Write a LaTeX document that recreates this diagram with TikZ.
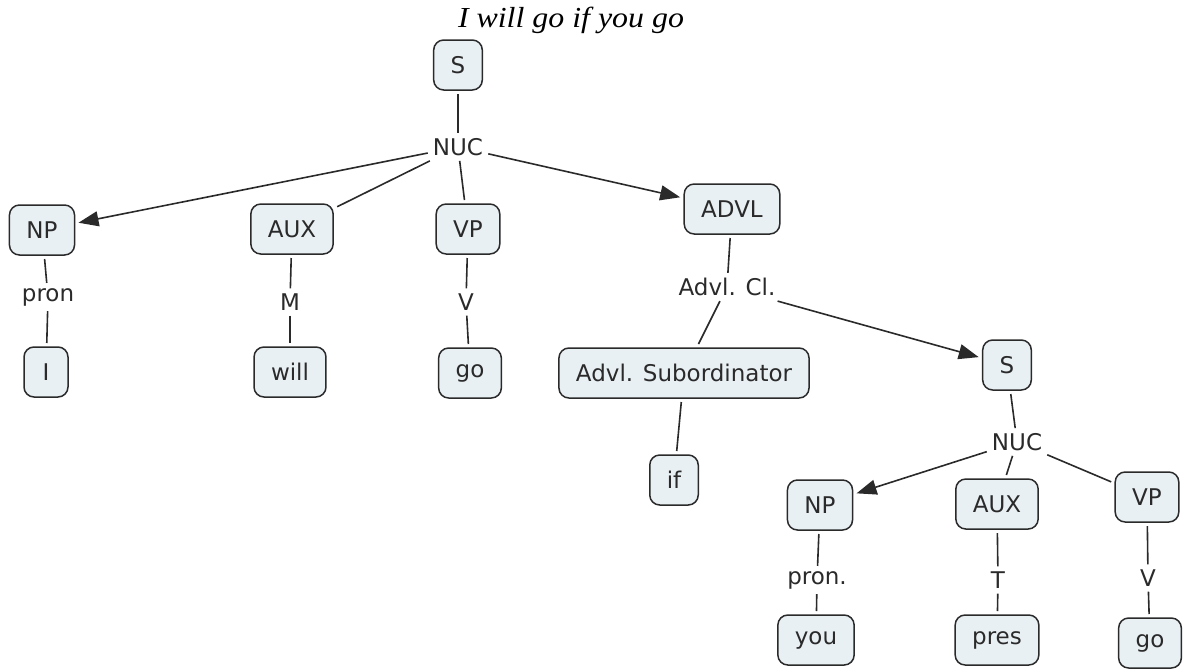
\documentclass[tikz,border=0pt]{standalone}
\usepackage{fontspec}
\setmainfont{DejaVu Sans}
\newfontfamily\titlefont{Liberation Serif}[FakeStretch=1.1]
\usepackage{tikz}
\usetikzlibrary{arrows.meta}
\definecolor{cmapfill}{HTML}{E9F0F4}
\definecolor{cmapink}{HTML}{2A2A2A}
\tikzset{
  conceptbox/.style={draw=cmapink,fill=cmapfill,rounded corners=10pt,line width=1.5pt,
    minimum height=50pt,minimum width=44pt,inner xsep=17pt,outer sep=4pt,
    text=cmapink,font=\fontsize{23}{27}\selectfont},
  linklabel/.style={inner sep=5pt,text=cmapink,font=\fontsize{23}{27}\selectfont},
  linkline/.style={draw=cmapink,line width=1.6pt},
  linkarrow/.style={linkline,-{Triangle[length=20pt,width=15pt]}},
  titlelabel/.style={font=\titlefont\itshape\fontsize{29}{33}\selectfont}
}
\begin{document}
\begin{tikzpicture}[x=1pt,y=-1pt]
  \useasboundingbox (0,0) rectangle (1186,670);
  \node[titlelabel,anchor=base] (title) at (571,27) {I will go if you go};
  % main clause
  \node[conceptbox] (s) at (458,65) {S};
  \node[linklabel] (nuc) at (458,147) {NUC};
  \node[conceptbox] (np) at (42,230) {NP};
  \node[conceptbox] (aux) at (292,229) {AUX};
  \node[conceptbox] (vp) at (468,229) {VP};
  \node[conceptbox] (advl) at (732,209) {ADVL};
  \draw[linkline] (s)--(nuc);
  \draw[linkarrow] (nuc)--(np);
  \draw[linkline] (nuc)--(aux);
  \draw[linkline] (nuc)--(vp);
  \draw[linkarrow] (nuc)--(advl);
  \node[linklabel] (pron) at (48,297) {pron};
  \node[linklabel] (modal) at (290,302) {M};
  \node[linklabel] (verb) at (466,302) {V};
  \node[conceptbox] (i) at (46,372) {I};
  \node[conceptbox] (will) at (290,372) {will};
  \node[conceptbox] (go) at (470,373) {go};
  \draw[linkline] (np)--(pron);
  \draw[linkline] (pron)--(i);
  \draw[linkline] (aux)--(modal);
  \draw[linkline] (modal)--(will);
  \draw[linkline] (vp)--(verb);
  \draw[linkline] (verb)--(go);
  % adverbial clause
  \node[linklabel] (advlcl) at (727,287) {Advl. Cl.};
  \node[conceptbox] (subord) at (684,373) {Advl. Subordinator};
  \node[conceptbox] (if) at (674,480) {if};
  \node[conceptbox] (s2) at (1007,365) {S};
  \draw[linkline] (advl)--(advlcl);
  \draw[linkline] (advlcl)--(subord);
  \draw[linkarrow] (advlcl)--(s2);
  \draw[linkline] (subord)--(if);
  % embedded clause
  \node[linklabel] (nuc2) at (1017,442) {NUC};
  \node[conceptbox] (np2) at (820,505) {NP};
  \node[conceptbox] (aux2) at (997,504) {AUX};
  \node[conceptbox] (vp2) at (1147,497) {VP};
  \draw[linkline] (s2)--(nuc2);
  \draw[linkarrow] (nuc2)--(np2);
  \draw[linkline] (nuc2)--(aux2);
  \draw[linkline] (nuc2)--(vp2);
  \node[linklabel] (pron2) at (817,580) {pron.};
  \node[linklabel] (tense) at (998,580) {T};
  \node[linklabel] (verb2) at (1148,578) {V};
  \node[conceptbox] (you) at (816,640) {you};
  \node[conceptbox] (pres) at (997,640) {pres};
  \node[conceptbox] (go2) at (1150,643) {go};
  \draw[linkline] (np2)--(pron2);
  \draw[linkline] (pron2)--(you);
  \draw[linkline] (aux2)--(tense);
  \draw[linkline] (tense)--(pres);
  \draw[linkline] (vp2)--(verb2);
  \draw[linkline] (verb2)--(go2);
\end{tikzpicture}
\end{document}
